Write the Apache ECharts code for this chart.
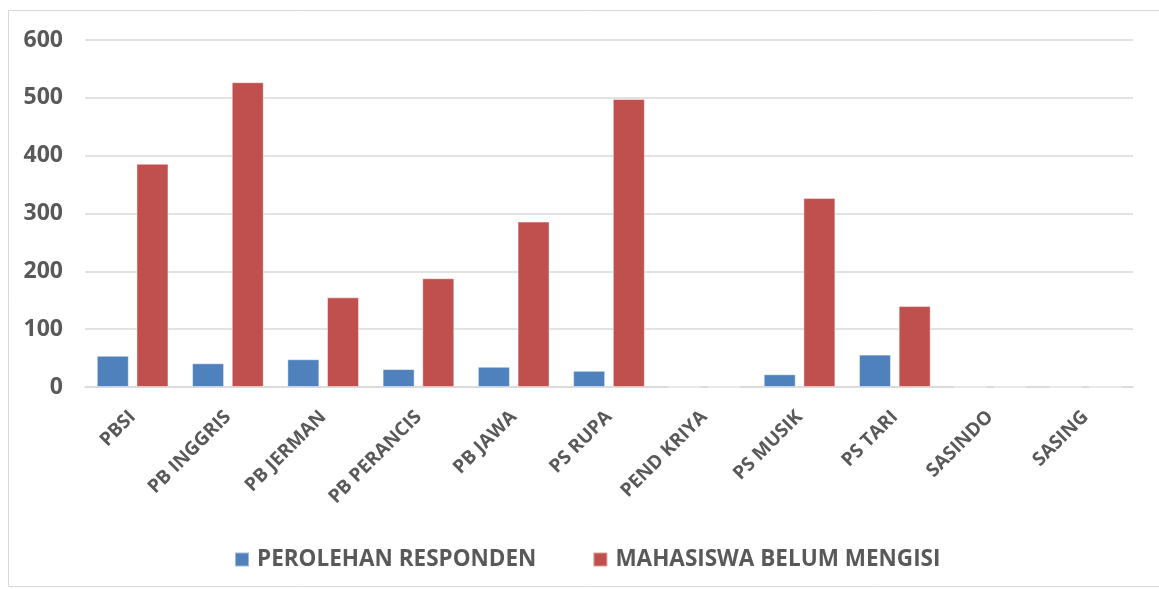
<!DOCTYPE html>
<html>
<head>
<meta charset="utf-8">
<script src="https://cdn.jsdelivr.net/npm/echarts@6/dist/echarts.min.js"></script>
<style>
  html, body { margin: 0; padding: 0; background: #fff; }
  #chart { width: 1159px; height: 589px; }
</style>
</head>
<body>
<div id="chart"></div>
<script>
var categories = ['PBSI', 'PB INGGRIS', 'PB JERMAN', 'PB PERANCIS', 'PB JAWA', 'PS RUPA', 'PEND KRIYA', 'PS MUSIK', 'PS TARI', 'SASINDO', 'SASING'];
var responden = [54, 41, 48, 31, 35, 28, 0, 22, 56, 0, 0];
var belumMengisi = [386, 527, 155, 188, 286, 498, 0, 327, 140, 0, 0];
var seriesNames = ['PEROLEHAN RESPONDEN', 'MAHASISWA BELUM MENGISI'];

var font = '"Open Sans", Lato, sans-serif';
var textGray = '#595959';

var chart = echarts.init(document.getElementById('chart'), null, { renderer: 'canvas' });
chart.setOption({
  animation: false,
  graphic: [{
    type: 'rect',
    shape: { x: 8.5, y: 10.5, width: 1160, height: 576 },
    style: { fill: 'none', stroke: '#d9d9d9', lineWidth: 1 },
    silent: true
  }],
  legend: {
    data: seriesNames,
    bottom: 13,
    left: 229,
    itemWidth: 14,
    itemHeight: 14,
    itemGap: 56,
    icon: 'rect',
    textStyle: { color: textGray, fontSize: 22.5, fontWeight: 'bold', fontFamily: font, padding: [0, 0, 0, 3] }
  },
  grid: { left: 85, right: 26, top: 40, bottom: 202, containLabel: false },
  xAxis: {
    type: 'category',
    data: categories,
    axisLine: { lineStyle: { color: '#d9d9d9', width: 1.5 } },
    axisTick: { show: false },
    axisLabel: {
      rotate: 45,
      interval: 0,
      margin: 27,
      color: textGray,
      fontSize: 19,
      fontWeight: 'bold',
      fontFamily: font
    }
  },
  yAxis: {
    type: 'value',
    min: 0,
    max: 600,
    interval: 100,
    axisLine: { show: false },
    axisTick: { show: false },
    splitLine: { lineStyle: { color: '#d9d9d9', width: 1.5 } },
    axisLabel: {
      margin: 22,
      color: textGray,
      fontSize: 23,
      fontWeight: 'bold',
      fontFamily: font
    }
  },
  series: [
    {
      name: seriesNames[0],
      type: 'bar',
      data: responden,
      barWidth: 32,
      barGap: '24%',
      itemStyle: { color: '#4F81BD', borderColor: 'rgba(255,255,255,0.45)', borderWidth: 1 }
    },
    {
      name: seriesNames[1],
      type: 'bar',
      data: belumMengisi,
      barWidth: 32,
      barGap: '24%',
      itemStyle: { color: '#C0504D', borderColor: 'rgba(255,255,255,0.45)', borderWidth: 1 }
    }
  ]
});
window.addEventListener('resize', function() { chart.resize(); });
</script>
</body>
</html>
